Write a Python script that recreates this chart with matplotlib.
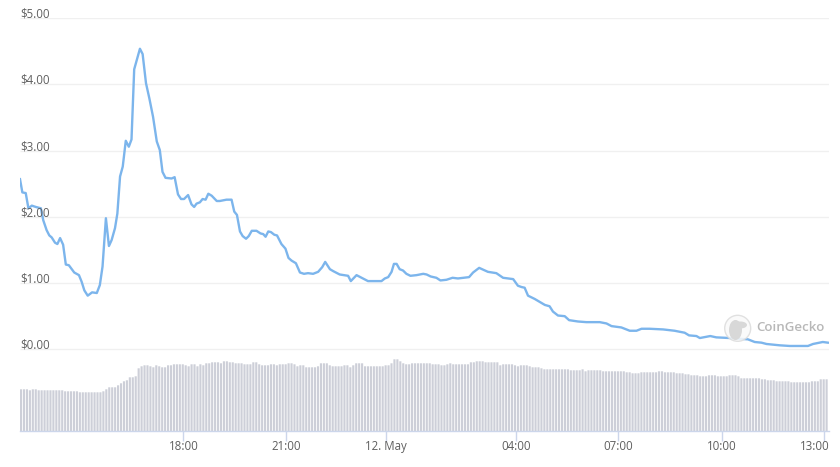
"""
Token price and volume over 24 hours, CoinGecko style chart.
"""

import matplotlib
matplotlib.use('Agg')
import matplotlib.pyplot as plt
from matplotlib.patches import Circle, Ellipse
from matplotlib.transforms import ScaledTranslation

# hours since the start of the window
price_hours = [
    0.00, 0.07, 0.17, 0.25, 0.35, 0.47, 0.62, 0.69, 0.79, 0.87,
    0.94, 1.04, 1.11, 1.19, 1.28, 1.36, 1.45, 1.61, 1.75, 1.83,
    1.91, 2.01, 2.14, 2.28, 2.37, 2.45, 2.55, 2.64, 2.72, 2.82,
    2.89, 2.97, 3.05, 3.14, 3.23, 3.31, 3.39, 3.56, 3.64, 3.74,
    3.84, 3.95, 4.06, 4.15, 4.23, 4.32, 4.50, 4.59, 4.69, 4.78,
    4.87, 4.99, 5.09, 5.17, 5.24, 5.34, 5.42, 5.51, 5.59, 5.69,
    5.84, 5.93, 6.13, 6.28, 6.36, 6.44, 6.53, 6.61, 6.71, 6.79,
    6.88, 7.02, 7.14, 7.22, 7.29, 7.37, 7.45, 7.55, 7.63, 7.76,
    7.88, 7.97, 8.06, 8.19, 8.31, 8.43, 8.55, 8.70, 8.85, 8.97,
    9.06, 9.20, 9.30, 9.49, 9.74, 9.82, 9.99, 10.14, 10.33, 10.53,
    10.73, 10.83, 10.93, 11.03, 11.10, 11.18, 11.27, 11.37, 11.47, 11.59,
    11.77, 11.97, 12.07, 12.19, 12.36, 12.48, 12.66, 12.84, 13.00, 13.33,
    13.45, 13.63, 13.89, 14.14, 14.34, 14.64, 14.78, 14.89, 14.98, 15.08,
    15.28, 15.58, 15.72, 15.82, 15.97, 16.17, 16.30, 16.56, 16.81, 17.21,
    17.41, 17.56, 17.85, 18.10, 18.30, 18.45, 18.69, 19.09, 19.43, 19.73,
    19.86, 20.08, 20.18, 20.49, 20.67, 21.07, 21.61, 21.81, 22.01, 22.16,
    22.55, 22.85, 23.14, 23.39, 23.54, 23.83, 23.98,
]
price_usd = [
    2.57, 2.37, 2.36, 2.13, 2.17, 2.15, 2.13, 1.95, 1.80, 1.72,
    1.69, 1.61, 1.59, 1.68, 1.58, 1.28, 1.27, 1.16, 1.12, 1.02,
    0.89, 0.81, 0.86, 0.85, 0.97, 1.25, 1.98, 1.56, 1.65, 1.83,
    2.05, 2.61, 2.76, 3.15, 3.06, 3.17, 4.23, 4.54, 4.46, 4.02,
    3.79, 3.51, 3.14, 3.01, 2.68, 2.59, 2.58, 2.60, 2.34, 2.27,
    2.27, 2.33, 2.19, 2.15, 2.20, 2.22, 2.27, 2.26, 2.35, 2.32,
    2.24, 2.24, 2.26, 2.26, 2.08, 2.03, 1.78, 1.71, 1.67, 1.71,
    1.79, 1.79, 1.75, 1.74, 1.70, 1.78, 1.77, 1.73, 1.72, 1.59,
    1.52, 1.38, 1.34, 1.30, 1.16, 1.14, 1.15, 1.14, 1.17, 1.24,
    1.32, 1.21, 1.18, 1.13, 1.11, 1.03, 1.12, 1.08, 1.03, 1.03,
    1.03, 1.07, 1.09, 1.17, 1.29, 1.29, 1.21, 1.19, 1.14, 1.11,
    1.12, 1.14, 1.13, 1.10, 1.08, 1.04, 1.05, 1.08, 1.07, 1.09,
    1.16, 1.23, 1.17, 1.15, 1.08, 1.06, 0.96, 0.94, 0.93, 0.81,
    0.76, 0.67, 0.65, 0.57, 0.51, 0.50, 0.44, 0.42, 0.41, 0.41,
    0.39, 0.35, 0.33, 0.28, 0.28, 0.31, 0.31, 0.30, 0.28, 0.25,
    0.21, 0.20, 0.17, 0.20, 0.18, 0.17, 0.15, 0.11, 0.10, 0.08,
    0.06, 0.05, 0.05, 0.05, 0.08, 0.11, 0.10,
]

# relative volume, one value per bar
volume = [
    42, 42, 42, 41, 42, 42, 41, 41, 41, 41,
    41, 41, 41, 41, 41, 40, 40, 40, 40, 40,
    39, 39, 39, 39, 39, 39, 39, 39, 40, 42,
    44, 44, 44, 46, 48, 50, 51, 54, 54, 55,
    63, 65, 66, 66, 65, 64, 66, 65, 64, 64,
    66, 66, 67, 67, 67, 67, 66, 65, 67, 67,
    65, 67, 66, 68, 68, 69, 69, 69, 68, 70,
    70, 69, 69, 68, 68, 68, 67, 67, 67, 69,
    69, 67, 66, 66, 66, 67, 67, 66, 67, 67,
    67, 68, 68, 67, 65, 66, 66, 64, 64, 64,
    64, 65, 68, 68, 68, 66, 65, 65, 65, 65,
    66, 66, 64, 66, 68, 68, 68, 65, 65, 65,
    65, 65, 65, 65, 66, 66, 68, 72, 72, 70,
    68, 67, 67, 68, 68, 68, 68, 68, 68, 68,
    67, 67, 67, 66, 66, 67, 68, 67, 67, 67,
    67, 67, 67, 69, 69, 70, 70, 70, 69, 69,
    69, 69, 69, 66, 67, 67, 67, 67, 66, 65,
    66, 66, 66, 65, 64, 64, 64, 63, 62, 62,
    62, 62, 62, 62, 62, 62, 62, 61, 61, 61,
    61, 62, 60, 61, 61, 61, 61, 61, 60, 60,
    60, 60, 60, 60, 60, 60, 59, 59, 58, 58,
    58, 59, 59, 59, 59, 59, 59, 60, 60, 59,
    59, 59, 59, 58, 58, 58, 57, 57, 56, 56,
    56, 55, 55, 55, 56, 56, 56, 55, 55, 55,
    55, 56, 56, 56, 55, 53, 53, 53, 53, 53,
    53, 53, 52, 52, 51, 51, 51, 50, 50, 50,
    50, 50, 49, 49, 49, 49, 49, 49, 49, 50,
    50, 50, 52, 52, 52,
]

price_ticks = [0, 1, 2, 3, 4, 5]
price_labels = ['$0.00', '$1.00', '$2.00', '$3.00', '$4.00', '$5.00']
time_ticks = [4.85, 7.89, 10.87, 14.73, 17.75, 20.84, 23.86]
time_labels = ['18:00', '21:00', '12. May', '04:00', '07:00', '10:00', '13:00']

WIDTH, HEIGHT = 840, 467
TEXT = '#5f5f5f'

plt.rcParams['font.family'] = ['Open Sans', 'DejaVu Sans']

fig = plt.figure(figsize=(WIDTH / 100, HEIGHT / 100), dpi=100)

# volume bars sit on the full plot area, price shares it on a twin axis
ax = fig.add_axes([20 / WIDTH, 1 - 431.3 / HEIGHT, 808.5 / WIDTH, 413 / HEIGHT])
step = 24 / len(volume)
bar_x = [i * step for i in range(len(volume))]
bars = ax.bar(bar_x, volume, width=step * 0.72, align='edge', color='#cdcfd8', linewidth=0)
# snapping merges some neighbours at this spacing
for bar in bars:
    bar.set_snap(False)
ax.set_xlim(0, 24)
ax.set_ylim(0, 413)
ax.set_yticks([])
for side in ['top', 'left', 'right']:
    ax.spines[side].set_visible(False)
ax.spines['bottom'].set_color('#ccd6eb')
ax.spines['bottom'].set_linewidth(1)
ax.set_xticks(time_ticks)
ax.set_xticklabels(time_labels, fontsize=8.3, color=TEXT)
ax.tick_params(axis='x', length=7, width=1, color='#ccd6eb', pad=-0.6)

# the last label is pushed left to stay inside the chart
last = ax.get_xticklabels()[-1]
last.set_transform(last.get_transform() + ScaledTranslation(-9 / 100, 0, fig.dpi_scale_trans))

price_ax = ax.twinx()
price_ax.set_ylim(-1.239, 5)
price_ax.set_yticks([])
for side in ['top', 'left', 'right', 'bottom']:
    price_ax.spines[side].set_visible(False)
price_ax.hlines(price_ticks, 0, 24, color='#f0f0f0', linewidth=1, zorder=1)
price_ax.plot(price_hours, price_usd, color='#7cb5ec', linewidth=1.7, zorder=3,
              solid_joinstyle='round')
for value, label in zip(price_ticks, price_labels):
    price_ax.annotate(label, (0, value), xytext=(0, -1.8), textcoords='offset points',
                      fontsize=8.3, color=TEXT, ha='left', va='bottom')

# watermark, placed in pixel coordinates
overlay = fig.add_axes([0, 0, 1, 1])
overlay.set_xlim(0, WIDTH)
overlay.set_ylim(HEIGHT, 0)
overlay.axis('off')
overlay.patch.set_alpha(0)
overlay.add_patch(Circle((737.7, 328.3), 13, facecolor='#fafafa', edgecolor='#dcdcdc',
                         linewidth=1, alpha=0.85))
overlay.add_patch(Ellipse((735.5, 330), 13, 20, facecolor='#d8d8d8', edgecolor='none'))
overlay.add_patch(Ellipse((740.5, 325), 13, 7, facecolor='#d8d8d8', edgecolor='none'))
overlay.text(756, 327.7, 'CoinGecko', fontsize=9.6, fontweight='semibold', color='#b8b8b8',
             ha='left', va='center')

plt.savefig('out.png', dpi=100)
plt.close()
